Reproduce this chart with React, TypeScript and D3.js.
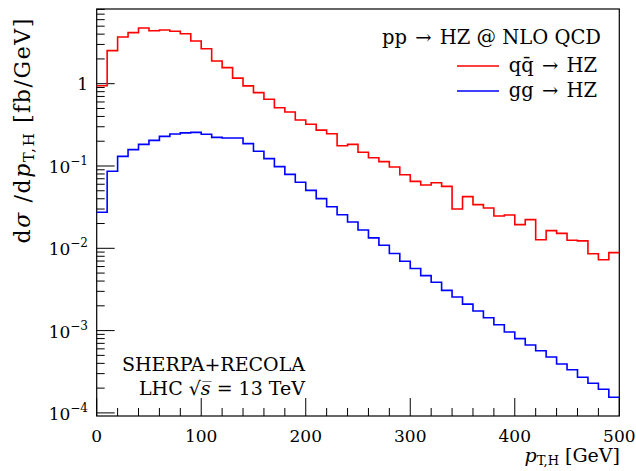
import React from "react";
import * as d3 from "d3";

const binEdges = [0, 10, 20, 30, 40, 50, 60, 70, 80, 90, 100, 110, 120, 130, 140, 150, 160, 170, 180, 190, 200, 210, 220, 230, 240, 250, 260, 270, 280, 290, 300, 310, 320, 330, 340, 350, 360, 370, 380, 390, 400, 410, 420, 430, 440, 450, 460, 470, 480, 490, 500];

const qqHZ = [0.945, 2.52, 3.69, 4.17, 4.75, 4.40, 4.49, 4.33, 4.05, 3.30,
  2.66, 1.89, 1.57, 1.17, 0.94, 0.78, 0.646, 0.511, 0.453, 0.362,
  0.321, 0.273, 0.247, 0.176, 0.183, 0.147, 0.126, 0.113, 0.0973, 0.0784,
  0.0651, 0.0588, 0.0627, 0.0566, 0.030, 0.0424, 0.0339, 0.0309, 0.0247, 0.0254,
  0.0194, 0.0223, 0.0127, 0.0164, 0.0152, 0.0125, 0.0123, 0.0086, 0.00726, 0.00885];

const ggHZ = [0.0274, 0.0862, 0.131, 0.158, 0.183, 0.205, 0.229, 0.245, 0.253, 0.256,
  0.243, 0.223, 0.219, 0.219, 0.187, 0.151, 0.123, 0.0982, 0.0792, 0.0634,
  0.0506, 0.0401, 0.0320, 0.0256, 0.0209, 0.0167, 0.0134, 0.0109, 0.00866, 0.00695,
  0.00568, 0.00465, 0.00386, 0.00308, 0.00256, 0.00210, 0.00173, 0.00143, 0.00118, 0.000962,
  0.000798, 0.000668, 0.000570, 0.000478, 0.000393, 0.000335, 0.000271, 0.000229, 0.000194, 0.000155];

const xMajorTicks = [0, 100, 200, 300, 400, 500];
const xMinorTicks = [20, 40, 60, 80, 120, 140, 160, 180, 220, 240, 260, 280, 320, 340, 360, 380, 420, 440, 460, 480];
const yMajorExps = [0, -1, -2, -3, -4];

const FONT = "'DejaVu Serif', serif";

export default function App() {
  const W = 636, H = 471;
  const left = 96.7, right = 619.3, top = 9, bottom = 416;
  const x = d3.scaleLinear().domain([0, 500]).range([left, right]);
  const y = d3.scaleLog().domain([Math.pow(10, -4.0377), Math.pow(10, 0.9077)]).range([bottom, top]);

  const [y0, y1] = y.domain();
  const minorY: number[] = [];
  for (let e = -5; e <= 1; e++) {
    for (let m = 2; m <= 9; m++) {
      const v = m * Math.pow(10, e);
      if (v >= y0 && v <= y1) minorY.push(v);
    }
  }

  const step = d3.line<[number, number]>().x(d => x(d[0])).y(d => y(d[1])).curve(d3.curveStepAfter);
  const pts = (vals: number[]) => {
    const p: [number, number][] = vals.map((v, i) => [binEdges[i], v]);
    p.push([binEdges[binEdges.length - 1], vals[vals.length - 1]]);
    return p;
  };

  return (
    <svg width={W} height={H} style={{ position: "absolute", left: 0, top: 0, background: "#fff" }} fontFamily={FONT}>
      <rect x={0} y={0} width={W} height={H} fill="#fff" />
      {/* frame */}
      <rect x={left} y={top} width={right - left} height={bottom - top} fill="none" stroke="#000" strokeWidth={1.2} />
      {/* x ticks */}
      {xMajorTicks.map(t => (
        <line key={"xM" + t} x1={x(t)} x2={x(t)} y1={bottom} y2={bottom - 18} stroke="#000" strokeWidth={1} />
      ))}
      {xMinorTicks.map(t => (
        <line key={"xm" + t} x1={x(t)} x2={x(t)} y1={bottom} y2={bottom - 8} stroke="#000" strokeWidth={1} />
      ))}
      {xMajorTicks.map(t => (
        <text key={"xl" + t} x={x(t)} y={442} fontSize={17} textAnchor="middle">{t}</text>
      ))}
      {/* y ticks */}
      {yMajorExps.map(e => (
        <line key={"yM" + e} x1={left} x2={left + 18} y1={y(Math.pow(10, e))} y2={y(Math.pow(10, e))} stroke="#000" strokeWidth={1} />
      ))}
      {minorY.map((v, i) => (
        <line key={"ym" + i} x1={left} x2={left + 8} y1={y(v)} y2={y(v)} stroke="#000" strokeWidth={1} />
      ))}
      {yMajorExps.map(e => (
        e === 0 ? (
          <text key={"yl" + e} x={88} y={y(1) + 6} fontSize={17} textAnchor="end">1</text>
        ) : (
          <text key={"yl" + e} x={88} y={y(Math.pow(10, e)) + 7} fontSize={17} textAnchor="end">
            10<tspan fontSize={12} dy={-8}>{"\u2212" + (-e)}</tspan>
          </text>
        )
      ))}
      {/* histograms */}
      <path d={step(pts(qqHZ)) || ""} fill="none" stroke="#ff0000" strokeWidth={1.6} />
      <path d={step(pts(ggHZ)) || ""} fill="none" stroke="#0000ff" strokeWidth={1.6} />
      {/* legend */}
      <text x={601} y={44} fontSize={19.5} textAnchor="end">pp <tspan dx={2}>→</tspan> <tspan dx={2}>HZ @ NLO QCD</tspan></text>
      <line x1={457} x2={499} y1={66} y2={66} stroke="#ff0000" strokeWidth={1.6} />
      <text x={597} y={72} fontSize={19.5} textAnchor="end">qq̄ <tspan dx={2}>→</tspan> <tspan dx={2}>HZ</tspan></text>
      <line x1={457} x2={499} y1={91} y2={91} stroke="#0000ff" strokeWidth={1.6} />
      <text x={597} y={97} fontSize={19.5} textAnchor="end">gg <tspan dx={2}>→</tspan> <tspan dx={2}>HZ</tspan></text>
      {/* generator label */}
      <text x={305} y={371} fontSize={19} textAnchor="end">SHERPA+RECOLA</text>
      <text x={305} y={395} fontSize={19} textAnchor="end">LHC √<tspan fontStyle="italic">s̅</tspan> = 13 TeV</text>
      {/* axis labels */}
      <text x={620} y={462} fontSize={19} textAnchor="end">
        <tspan fontStyle="italic">p</tspan><tspan fontSize={13} dy={3}>T,H</tspan><tspan dy={-3}> [GeV]</tspan>
      </text>
      <text transform="translate(30, 17) rotate(-90)" fontSize={22} letterSpacing={1.6} textAnchor="end">
        d<tspan fontStyle="italic">σ</tspan> /d<tspan fontStyle="italic">p</tspan><tspan fontSize={15} dy={4}>T,H</tspan><tspan dy={-4}> [fb/GeV]</tspan>
      </text>
    </svg>
  );
}
